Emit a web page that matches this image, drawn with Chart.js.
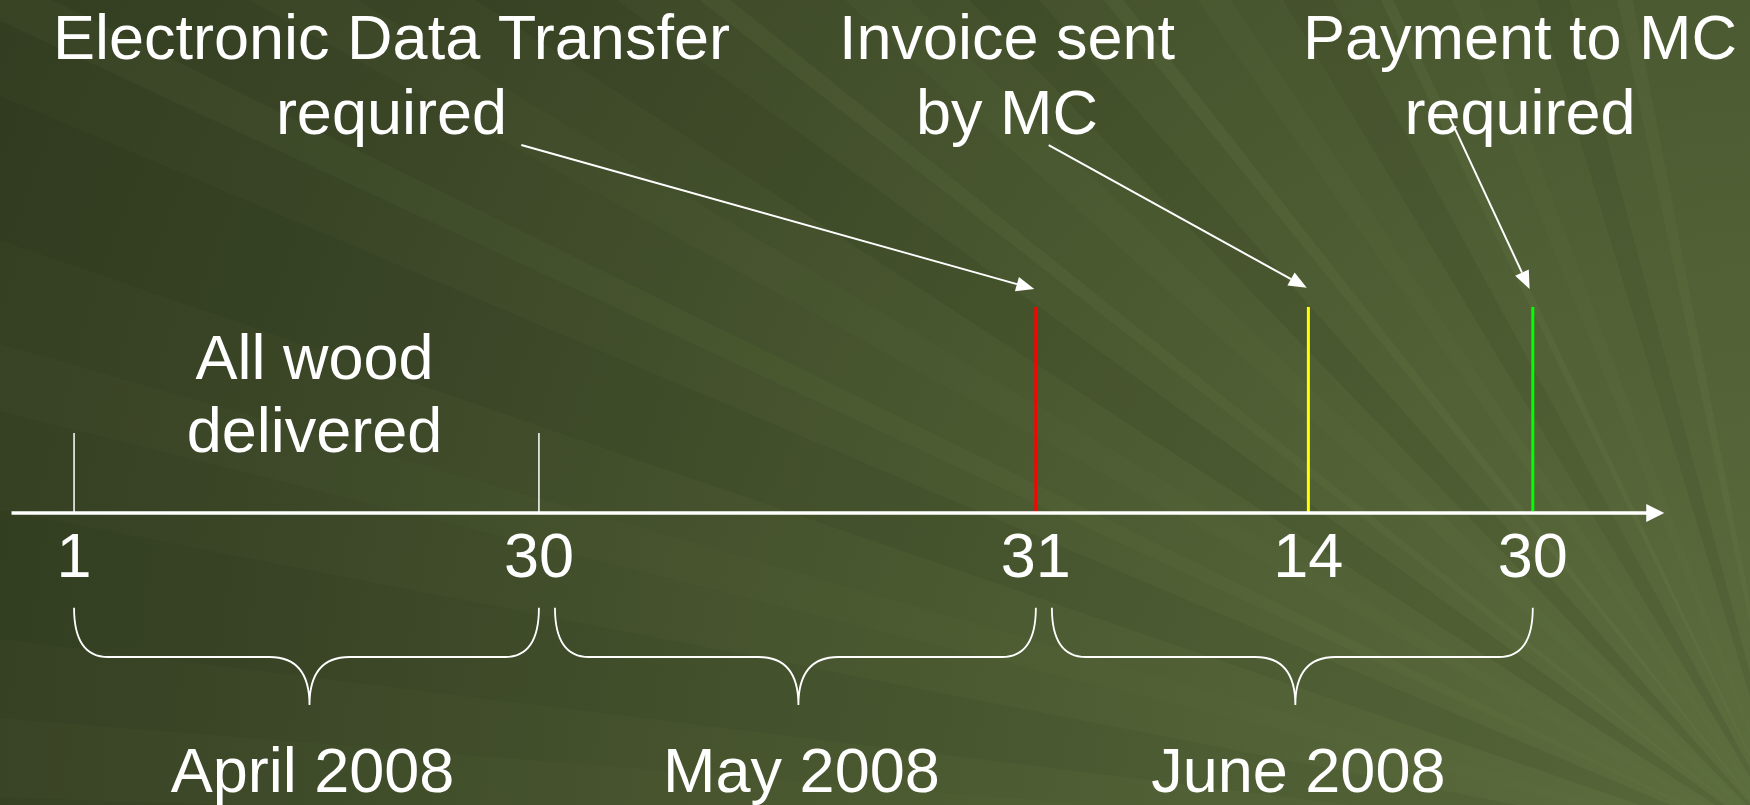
<!DOCTYPE html>
<html>
<head>
<meta charset="utf-8">
<script src="https://cdn.jsdelivr.net/npm/chart.js@4"></script>
<style>
  html, body { margin: 0; padding: 0; background: #3f4a29; }
  #wrap { width: 1750px; height: 805px; }
</style>
</head>
<body>
<div id="wrap"><canvas id="timeline" width="1750" height="805"></canvas></div>
<script>
// timeline positions (schematic, not to scale)
const tickPos = [1, 30, 61, 78, 92];
const tickLabels = ['1', '30', '31', '14', '30'];
const boundaryPos = [1, 30];
const milestonePos = [61, 78, 92];
const milestoneColors = ['#ff0000', '#ffff00', '#00ff00'];
const milestoneText = [
    ['Electronic Data Transfer', 'required'],
    ['Invoice sent', 'by MC'],
    ['Payment to MC', 'required']
];
const milestoneTextX = [20.8, 59.2, 91.2];
const arrowFrom = [{x: 28.9, y: 5.75}, {x: 61.8, y: 5.75}, {x: 86.8, y: 6.19}];
const arrowTo = [{x: 60.9, y: 3.5}, {x: 77.9, y: 3.52}, {x: 91.8, y: 3.5}];
const months = ['April 2008', 'May 2008', 'June 2008'];
const monthStart = [1, 31, 62];
const monthEnd = [30, 61, 92];
const noteText = ['All wood', 'delivered'];
const noteX = 16;

const FONT = '63px "Liberation Sans", Arial, sans-serif';

// lines as datasets
const datasets = [];
datasets.push({
    data: [{x: -2.9, y: 0}, {x: 99.4, y: 0}],
    borderColor: '#ffffff', borderWidth: 3.5
});
boundaryPos.forEach(p => datasets.push({
    data: [{x: p, y: 0}, {x: p, y: 1.25}],
    borderColor: '#ffffff', borderWidth: 1.5
}));
milestonePos.forEach((p, i) => datasets.push({
    data: [{x: p, y: 0}, {x: p, y: 3.22}],
    borderColor: milestoneColors[i], borderWidth: 3
}));

// background: olive gradient with rays from the lower right
const rays = [
    [182, 2.5, 'rgba(120,140,80,0.05)'], [187, 4, 'rgba(20,30,10,0.06)'],
    [194, 2, 'rgba(120,140,80,0.05)'], [199, 4, 'rgba(20,30,10,0.07)'],
    [205, 1.2, 'rgba(130,150,90,0.07)'], [209, 1.8, 'rgba(120,140,80,0.06)'],
    [213, 3, 'rgba(20,30,10,0.09)'], [218, 0.8, 'rgba(130,150,90,0.10)'],
    [222, 2, 'rgba(120,140,80,0.07)'], [226, 2.5, 'rgba(20,30,10,0.09)'],
    [231, 0.8, 'rgba(140,160,100,0.10)'], [235, 1.5, 'rgba(120,140,80,0.07)'],
    [239, 2.5, 'rgba(20,30,10,0.08)'], [244, 0.7, 'rgba(140,160,100,0.10)'],
    [248, 1.5, 'rgba(120,140,80,0.07)'], [253, 2, 'rgba(20,30,10,0.07)'],
    [258, 1, 'rgba(140,160,100,0.08)']
];

const backdrop = {
    id: 'backdrop',
    beforeDraw(chart) {
        const {ctx, width, height} = chart;
        ctx.save();
        const g = ctx.createRadialGradient(1800, 860, 50, 1800, 860, 2000);
        g.addColorStop(0, '#5d6e3e');
        g.addColorStop(0.45, '#4a5830');
        g.addColorStop(0.8, '#3a4526');
        g.addColorStop(1, '#333d21');
        ctx.fillStyle = g;
        ctx.fillRect(0, 0, width, height);
        const ox = 1800, oy = 860, R = 2600;
        rays.forEach(([a, w, c]) => {
            const a0 = a * Math.PI / 180, a1 = (a + w) * Math.PI / 180;
            ctx.beginPath();
            ctx.moveTo(ox, oy);
            ctx.lineTo(ox + R * Math.cos(a0), oy + R * Math.sin(a0));
            ctx.lineTo(ox + R * Math.cos(a1), oy + R * Math.sin(a1));
            ctx.closePath();
            ctx.fillStyle = c;
            ctx.fill();
        });
        ctx.restore();
    }
};

function arrow(ctx, x0, y0, x1, y1, len, half) {
    const ang = Math.atan2(y1 - y0, x1 - x0);
    const bx = x1 - len * Math.cos(ang), by = y1 - len * Math.sin(ang);
    ctx.beginPath();
    ctx.moveTo(x0, y0);
    ctx.lineTo(bx, by);
    ctx.stroke();
    ctx.beginPath();
    ctx.moveTo(x1, y1);
    ctx.lineTo(bx + half * Math.sin(ang), by - half * Math.cos(ang));
    ctx.lineTo(bx - half * Math.sin(ang), by + half * Math.cos(ang));
    ctx.closePath();
    ctx.fill();
}

const overlay = {
    id: 'overlay',
    afterDatasetsDraw(chart) {
        const {ctx} = chart;
        const xs = chart.scales.x, ys = chart.scales.y;
        const px = v => xs.getPixelForValue(v);
        const py = v => ys.getPixelForValue(v);
        ctx.save();
        ctx.fillStyle = '#ffffff';
        ctx.strokeStyle = '#ffffff';

        // axis arrowhead
        arrow(ctx, px(99), py(0), px(100.2), py(0), 18, 9);

        // pointer arrows
        ctx.lineWidth = 2;
        arrowFrom.forEach((f, i) => {
            arrow(ctx, px(f.x), py(f.y), px(arrowTo[i].x), py(arrowTo[i].y), 18, 7.5);
        });

        // braces
        ctx.lineWidth = 1.8;
        const top = py(-1.48), mid = py(-2.25), bot = py(-3.0);
        monthStart.forEach((s, i) => {
            const x0 = px(s), x1 = px(monthEnd[i]), xm = (x0 + x1) / 2 + 3;
            const r = 34, r2 = 40;
            ctx.beginPath();
            ctx.moveTo(x0, top);
            ctx.quadraticCurveTo(x0, mid, x0 + r, mid);
            ctx.lineTo(xm - r2, mid);
            ctx.quadraticCurveTo(xm, mid, xm, bot);
            ctx.moveTo(x1, top);
            ctx.quadraticCurveTo(x1, mid, x1 - r, mid);
            ctx.lineTo(xm + r2, mid);
            ctx.quadraticCurveTo(xm, mid, xm, bot);
            ctx.stroke();
        });

        // text
        ctx.font = FONT;
        ctx.textAlign = 'center';
        ctx.textBaseline = 'middle';
        milestoneText.forEach((lines, i) => {
            ctx.fillText(lines[0], px(milestoneTextX[i]), py(7.37));
            ctx.fillText(lines[1], px(milestoneTextX[i]), py(6.2));
        });
        ctx.fillText(noteText[0], px(noteX), py(2.37));
        ctx.fillText(noteText[1], px(noteX), py(1.22));
        tickPos.forEach((p, i) => ctx.fillText(tickLabels[i], px(p), py(-0.73)));
        monthStart.forEach((s, i) => {
            ctx.fillText(months[i], (px(s) + px(monthEnd[i])) / 2 + 6, py(-4.09));
        });
        ctx.restore();
    }
};

new Chart(document.getElementById('timeline'), {
    type: 'scatter',
    data: { datasets: datasets.map(d => Object.assign({
        showLine: true, pointRadius: 0, borderCapStyle: 'butt', fill: false
    }, d)) },
    options: {
        responsive: false,
        animation: false,
        layout: { padding: 0 },
        scales: {
            x: { type: 'linear', min: -3.62, max: 105.55, display: false },
            y: { type: 'linear', min: -4.5625, max: 8.016, display: false }
        },
        plugins: { legend: { display: false }, tooltip: { enabled: false } }
    },
    plugins: [backdrop, overlay]
});
</script>
</body>
</html>
